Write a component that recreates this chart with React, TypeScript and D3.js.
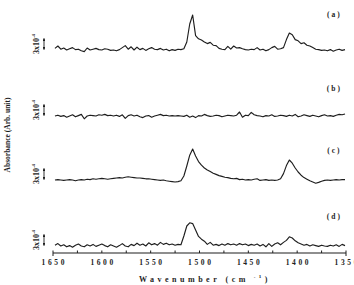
import React from 'react';
import * as d3 from 'd3';

// Wavenumber grid (cm-1), sampling of the spectra
const WAVENUMBERS: number[] = d3.range(1648, 1350, -3);

// Absorbance of each spectrum (units of 1e-4, relative to its own baseline)
const TRACE_A = [
  0.4, 1.0, 0.2, 0.5, 0.0, 0.3, 0.6, 0.1, 0.2, -0.2,
  -0.4, 0.5, 0.0, 0.2, 0.4, 0.1, 0.0, 0.3, 0.2, -0.1,
  0.0, -0.2, 0.1, 0.6, 1.1, 0.2, 0.8, 0.0, 0.7, 0.1,
  0.4, -0.1, 0.3, 0.6, 0.2, 0.1, 0.4, 0.0, 0.2, -0.2,
  0.1, -0.1, 0.2, 0.1, 0.3, 2.0, 6.5, 8.75, 3.6, 2.8,
  2.5, 2.0, 1.6, 1.9, 1.2, 1.1, 0.4, 0.2, 0.1, 0.9,
  0.2, 1.0, 0.5, 0.6, 0.3, 0.1, 0.0, 0.2, 0.1, 0.6,
  0.0, 0.2, -0.2, 0.1, 0.6, 0.9, 0.2, 0.3, 0.6, 2.6,
  4.25, 3.8, 2.6, 2.3, 1.6, 1.8, 1.2, 1.0, 0.6, 0.2,
  0.1, -0.1, 0.0, -0.2, 0.1, -0.3, 0.0, 0.2, -0.1, 0.1,
];
const TRACE_B = [
  0.0, 0.2, -0.1, 0.1, -0.3, 0.0, 0.3, -0.2, 0.1, 0.4,
  -0.7, 0.0, 0.2, 0.1, 0.0, 0.3, 0.2, 0.4, 0.1, 0.2,
  0.0, 0.2, -0.1, 0.3, -0.6, 0.1, 0.3, 0.0, 0.2, -0.2,
  -0.4, 0.0, 0.1, -0.3, 0.0, 0.2, 0.4, 0.1, 0.2, 0.0,
  0.1, 0.0, 0.1, 0.0, -0.1, 0.2, -0.3, 0.0, -0.4, 0.1,
  0.0, 0.4, 0.1, -0.1, 0.0, 0.2, 0.1, -0.2, 0.0, 0.2,
  0.1, 0.0, 0.2, 1.0, -0.3, 0.2, 0.1, 0.9, 0.3, 0.1,
  0.0, -0.2, 0.1, 0.0, 0.3, -0.1, 0.0, 0.2, 0.1, -0.1,
  0.2, 0.0, 0.4, -0.2, 0.0, 0.3, 0.1, -0.1, 0.2, 0.0,
  -0.2, 0.1, 0.3, 0.0, 0.1, -0.1, 0.2, 0.4, 0.3, 0.5,
];
const TRACE_C = [
  0.0, 0.1, 0.0, -0.1, 0.0, 0.1, 0.0, -0.2, 0.0, 0.1,
  0.0, 0.2, 0.1, 0.3, 0.2, 0.3, 0.4, 0.3, 0.2, 0.3,
  0.4, 0.5, 0.6, 0.5, 0.7, 0.8, 0.7, 0.6, 0.5, 0.5,
  0.4, 0.3, 0.3, 0.2, 0.1, 0.0, -0.1, 0.0, -0.2, -0.3,
  -0.4, -0.5, -0.4, -0.2, 1.0, 3.5, 6.2, 7.75, 6.0, 4.6,
  3.7, 3.0, 2.5, 2.1, 1.7, 1.4, 1.1, 0.9, 0.7, 0.6,
  0.4, 0.3, 0.4, 0.1, 0.2, 0.0, 0.1, 0.0, 0.2, 0.3,
  -0.1, 0.0, 0.1, -0.1, 0.0, -0.1, 0.0, 0.3, 1.6, 3.6,
  5.0, 4.2, 3.0, 2.0, 1.2, 0.6, 0.2, -0.2, -0.5, -0.8,
  -0.6, -0.3, -0.1, 0.0, -0.1, 0.0, 0.1, 0.0, 0.1, 0.1,
];
const TRACE_D = [
  0.2, 0.6, 0.0, 0.3, -0.2, 0.1, -0.3, 0.2, 0.5, 0.0,
  -0.2, 0.3, 0.0, 0.4, -0.1, 0.2, 0.5, 0.1, -0.2, 0.3,
  0.0, -0.3, 0.1, 0.6, 0.0, -0.2, 0.4, 0.1, 0.7, 0.2,
  0.5, 0.0, 0.8, 0.3, 0.6, 0.2, 0.9, 0.4, 0.7, 0.3,
  0.5, 0.2, 0.4, 0.3, 2.5, 5.0, 5.8, 5.6, 4.0, 2.4,
  1.7, 1.2, 0.4, 0.9, 0.2, 0.4, 0.1, 0.5, 0.2, 0.6,
  0.3, 0.5, 0.2, 0.6, 0.3, 0.5, 0.1, 0.4, 0.2, 0.5,
  0.0, 0.4, -0.2, 0.6, -0.1, 0.5, 0.8, 0.3, 0.9, 1.4,
  2.3, 2.0, 1.3, 0.8, 0.5, 0.2, 0.4, 0.0, 0.3, 0.1,
  -0.1, 0.2, 0.0, -0.1, 0.2, 0.0, 0.3, -0.1, 0.4, 0.1,
];

const SERIES = [TRACE_A, TRACE_B, TRACE_C, TRACE_D];
const SERIES_LABELS = ['(a)', '(b)', '(c)', '(d)'];
// vertical stacking offsets (1e-4 units)
const OFFSETS = [50.5, 34, 18, 1.5];
const SCALE_BAR = 3; // 3x10^-4

const X_TICKS = [1650, 1625, 1600, 1575, 1550, 1525, 1500, 1475, 1450, 1425, 1400, 1375, 1350];
const X_TICK_LABELS = [1650, 1600, 1550, 1500, 1450, 1400, 1350];

// layout (not data)
const W = 354;
const H = 285;
const LABEL_RISE = [9, 7, 7.5, 7.5];
const FONT = '"Liberation Serif", "DejaVu Serif", serif';
const INK = '#1e1e1e';

export default function App() {
  const x = d3.scaleLinear().domain([1650, 1350]).range([53, 346]);
  const y = d3.scaleLinear().domain([0, 63]).range([252, 0]);
  const axisY = 253;

  const lineFor = (vals: number[], off: number) =>
    d3
      .line<number>()
      .x((_, i) => x(WAVENUMBERS[i]))
      .y((v) => y(off + v))(vals) || '';

  return (
    <svg
      width={W}
      height={H}
      viewBox={`0 0 ${W} ${H}`}
      style={{ position: 'absolute', left: 0, top: 0, background: '#fff' }}
      fontFamily={FONT}
    >
      <defs>
        <marker id="ah" viewBox="0 0 6 6" refX="5" refY="3" markerWidth="3.2" markerHeight="3.2" orient="auto-start-reverse">
          <path d="M0,0 L6,3 L0,6 z" fill={INK} />
        </marker>
      </defs>
      <rect x={0} y={0} width={W} height={H} fill="#fff" />

      {SERIES.map((vals, k) => (
        <path key={k} d={lineFor(vals, OFFSETS[k])} fill="none" stroke={INK} strokeWidth={1.15} strokeLinejoin="round" />
      ))}

      {SERIES_LABELS.map((lab, k) => (
        <text
          key={lab}
          x={x(1365) + 3}
          y={y(OFFSETS[k] + LABEL_RISE[k]) + 2.5}
          fontSize={7.5}
          fontWeight="bold"
          letterSpacing={2}
          textAnchor="middle"
          fill={INK}
        >
          {lab}
        </text>
      ))}

      {OFFSETS.map((off, k) => {
        const y0 = y(off);
        const y1 = y(off + SCALE_BAR);
        const cy = (y0 + y1) / 2;
        return (
          <g key={k}>
            <line x1={44} x2={44} y1={y0 - 0.5} y2={y1 + 0.5} stroke={INK} strokeWidth={0.9} markerStart="url(#ah)" markerEnd="url(#ah)" />
            <g transform={`translate(39,${cy}) rotate(-90)`}>
              <text x={0} y={0} fontSize={8} fontWeight="bold" textAnchor="middle" fill={INK}>
                <tspan>3x10</tspan>
                <tspan fontSize={5} dy={-4.5}>-4</tspan>
              </text>
            </g>
          </g>
        );
      })}

      {/* x axis */}
      <line x1={x(1650)} x2={x(1350)} y1={axisY} y2={axisY} stroke={INK} strokeWidth={1.1} />
      {X_TICKS.map((t) => (
        <line key={t} x1={x(t)} x2={x(t)} y1={axisY} y2={axisY - 2.5} stroke={INK} strokeWidth={1} />
      ))}
      <line x1={x(1650)} x2={x(1650)} y1={axisY} y2={axisY + 3} stroke={INK} strokeWidth={1} />
      <line x1={x(1350)} x2={x(1350)} y1={axisY} y2={axisY + 3} stroke={INK} strokeWidth={1} />
      {X_TICK_LABELS.map((t) => (
        <text key={t} x={x(t) + 1.3} y={265} fontSize={7.5} fontWeight="bold" letterSpacing={2.6} textAnchor="middle" fill={INK}>
          {String(t)}
        </text>
      ))}
      <text x={205} y={282} fontSize={8} fontWeight="bold" letterSpacing={3.5} textAnchor="middle" fill={INK}>
        Wavenumber (cm
        <tspan fontSize={5} dy={-4}> -1</tspan>
        <tspan dy={4}>)</tspan>
      </text>

      {/* y title */}
      <g transform="translate(10,135) rotate(-90)">
        <text x={0} y={0} fontSize={7.5} fontWeight="bold" textAnchor="middle" fill={INK}>
          Absorbance (Arb. unit)
        </text>
      </g>
    </svg>
  );
}
